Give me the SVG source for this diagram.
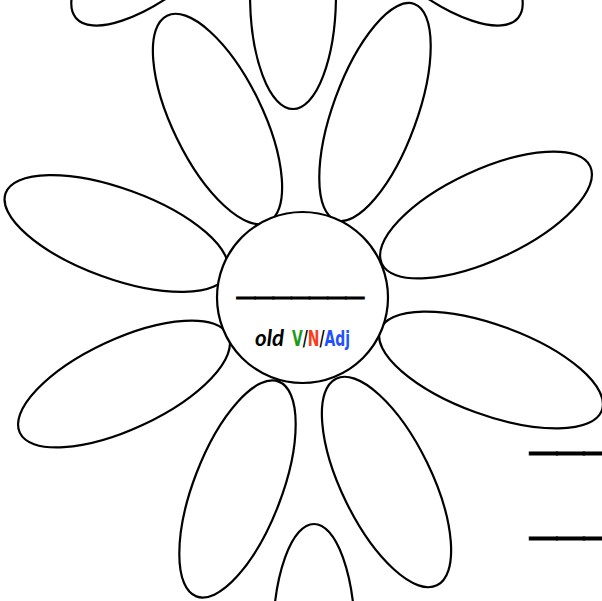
<svg xmlns="http://www.w3.org/2000/svg" width="602" height="601" viewBox="0 0 602 601">
<style>
.p{fill:#fff;stroke:#000;stroke-width:2.2}
.u{font-family:"Liberation Sans",Arial,sans-serif;fill:#000;stroke:#000;stroke-width:1}
.t{font-family:"DejaVu Sans Condensed","DejaVu Sans",sans-serif;font-stretch:condensed;font-size:22px}
.o{font-family:"Lato","DejaVu Sans",sans-serif;font-style:italic;font-weight:bold;font-size:22px}
</style>
<rect width="602" height="601" fill="#fff"/>
<g id="petals">
<g id="petal-top-left-partial"><ellipse class="p" cx="164" cy="-56" rx="115" ry="45" transform="rotate(-40 164 -56)"/></g>
<g id="petal-top-right-partial"><ellipse class="p" cx="430" cy="-56" rx="115" ry="45" transform="rotate(40 430 -56)"/></g>
<g id="petal-top"><ellipse class="p" cx="293" cy="-6" rx="43" ry="115"/></g>
<g id="petal-upper-left"><ellipse class="p" cx="217.5" cy="119" rx="115" ry="45" transform="rotate(64 217.5 119)"/></g>
<g id="petal-upper-right"><ellipse class="p" cx="375" cy="112" rx="115" ry="42" transform="rotate(-70 375 112)"/></g>
<g id="petal-left"><ellipse class="p" cx="116.5" cy="233.5" rx="118" ry="45" transform="rotate(20 116.5 233.5)"/></g>
<g id="petal-right"><ellipse class="p" cx="486" cy="215" rx="115" ry="45" transform="rotate(-25 486 215)"/></g>
<g id="petal-lower-left"><ellipse class="p" cx="124" cy="384" rx="115" ry="45" transform="rotate(-25 124 384)"/></g>
<g id="petal-lower-right"><ellipse class="p" cx="491" cy="370" rx="118" ry="45" transform="rotate(20 491 370)"/></g>
<g id="petal-bottom-left"><ellipse class="p" cx="237.5" cy="489" rx="115" ry="44" transform="rotate(-69 237.5 489)"/></g>
<g id="petal-bottom-right"><ellipse class="p" cx="386.5" cy="482" rx="115" ry="45" transform="rotate(64 386.5 482)"/></g>
<g id="petal-bottom"><ellipse class="p" cx="314" cy="639" rx="41" ry="115"/></g>
</g>
<g id="center">
<circle class="p" cx="302.5" cy="297.5" r="85.5"/>
<text class="u" x="237" y="292" font-size="33" textLength="127" lengthAdjust="spacingAndGlyphs">_______</text>
<text class="o" x="255" y="346" textLength="29" lengthAdjust="spacingAndGlyphs">old</text>
<text class="t" x="292" y="346" font-weight="bold" textLength="58" lengthAdjust="spacingAndGlyphs"><tspan fill="#1e9a1e">V</tspan><tspan fill="#000">/</tspan><tspan fill="#ff3a1a">N</tspan><tspan fill="#000">/</tspan><tspan fill="#2350ff">Adj</tspan></text>
</g>
<g id="blanks">
<text class="u" x="530" y="444.5" font-size="48.6">___</text>
<text class="u" x="530" y="529.5" font-size="48.6">___</text>
</g>
<g id="connectors"></g>
</svg>
